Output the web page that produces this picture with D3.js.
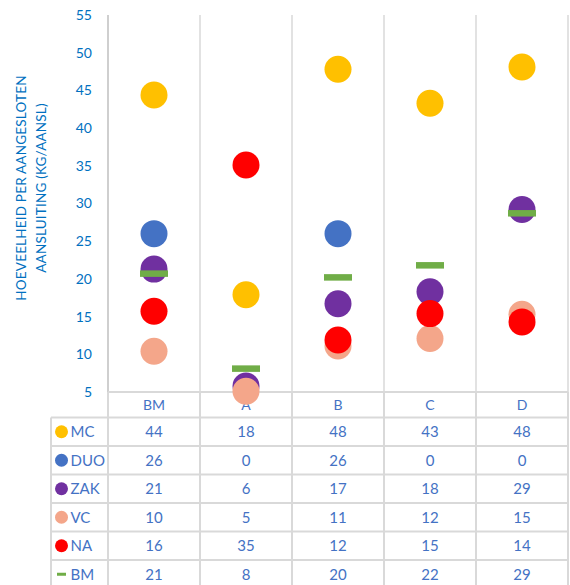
<!DOCTYPE html>
<html>
<head>
<meta charset="utf-8">
<script src="https://cdn.jsdelivr.net/npm/d3@7"></script>
<style>
  body { margin: 0; background: #fff; }
  svg { font-family: Lato, "Liberation Sans", sans-serif; }
</style>
</head>
<body>
<svg width="570" height="585"></svg>
<script>
// data
const categories = ["BM", "A", "B", "C", "D"];
const seriesNames = ["MC", "DUO", "ZAK", "VC", "NA", "BM"];
const mc  = [44.4, 17.9, 47.8, 43.3, 48.1];
const duo = [26.0, 0, 26.0, 0, 0];
const zak = [21.3, 5.8, 16.7, 18.3, 29.2];
const vc  = [10.4, 5.1, 11.1, 12.1, 15.3];
const na  = [15.7, 35.1, 11.9, 15.4, 14.3];
const bm  = [20.7, 8.1, 20.2, 21.8, 28.7];
const yTicks = [5, 10, 15, 20, 25, 30, 35, 40, 45, 50, 55];

const seriesValues = [mc, duo, zak, vc, na, bm];
const colors = ["#FFC000", "#4472C4", "#7030A0", "#F4A68A", "#FF0000", "#70AD47"];

const svg = d3.select("svg");

const x = d3.scaleBand()
  .domain(categories)
  .range([108, 568]);

const y = d3.scaleLinear()
  .domain([5, 55])
  .range([392, 15]);

const rows = d3.scaleBand()
  .domain(d3.range(seriesNames.length))
  .range([417.5, 588.5]);

// vertical gridlines
svg.append("g")
  .selectAll("line")
  .data(categories)
  .enter()
  .append("line")
  .attr("x1", d => x(d) + x.bandwidth())
  .attr("x2", d => x(d) + x.bandwidth())
  .attr("y1", y(55))
  .attr("y2", y(5))
  .attr("stroke", "#D9D9D9")
  .attr("stroke-width", 1.5);

// y axis
const yAxis = svg.append("g")
  .attr("transform", "translate(108,0)")
  .call(d3.axisLeft(y).tickValues(yTicks).tickSize(0).tickPadding(16));
yAxis.select(".domain").remove();
yAxis.selectAll("text")
  .attr("fill", "#0070C0")
  .attr("font-size", 14)
  .attr("font-family", "Lato, sans-serif");

svg.append("line")
  .attr("x1", 108).attr("x2", 108)
  .attr("y1", y(55)).attr("y2", y(5))
  .attr("stroke", "#BFBFBF")
  .attr("stroke-width", 1.5);

// y title
const title = svg.append("text")
  .attr("transform", "translate(0,188) rotate(-90)")
  .attr("text-anchor", "middle")
  .attr("fill", "#0070C0")
  .attr("font-size", 13.5)
  .attr("letter-spacing", 0.2);
title.append("tspan").attr("x", 0).attr("y", 26).text("HOEVEELHEID PER AANGESLOTEN");
title.append("tspan").attr("x", 0).attr("y", 46).text("AANSLUITING (KG/AANSL)");

// table grid
const grid = svg.append("g")
  .attr("stroke", "#D9D9D9")
  .attr("stroke-width", 2);

grid.append("line")
  .attr("x1", 108).attr("x2", 568)
  .attr("y1", y(5)).attr("y2", y(5));

grid.selectAll(".hrow")
  .data(d3.range(seriesNames.length + 1))
  .enter()
  .append("line")
  .attr("x1", 51).attr("x2", 568)
  .attr("y1", i => rows.step() * i + rows.range()[0])
  .attr("y2", i => rows.step() * i + rows.range()[0]);

grid.append("line")
  .attr("x1", 51).attr("x2", 51)
  .attr("y1", rows.range()[0]).attr("y2", 588);

grid.selectAll(".vcol")
  .data(categories)
  .enter()
  .append("line")
  .attr("x1", d => x(d))
  .attr("x2", d => x(d))
  .attr("y1", y(5))
  .attr("y2", 588);

grid.append("line")
  .attr("x1", 568).attr("x2", 568)
  .attr("y1", y(5)).attr("y2", 588);

// category labels
svg.append("g")
  .selectAll("text")
  .data(categories)
  .enter()
  .append("text")
  .attr("x", d => x(d) + x.bandwidth() / 2)
  .attr("y", 405)
  .attr("dy", ".35em")
  .attr("text-anchor", "middle")
  .attr("fill", "#4472C4")
  .attr("font-size", 14)
  .text(d => d);

// legend column + values
seriesNames.forEach((name, i) => {
  const cy = rows(i) + rows.bandwidth() / 2;
  if (i < 5) {
    svg.append("circle")
      .attr("cx", 61.5).attr("cy", cy).attr("r", 6.5)
      .attr("fill", colors[i]);
  } else {
    svg.append("rect")
      .attr("x", 57).attr("y", cy - 1.5)
      .attr("width", 9).attr("height", 3)
      .attr("fill", colors[i]);
  }
  svg.append("text")
    .attr("x", 70.5).attr("y", cy)
    .attr("dy", ".35em")
    .attr("fill", "#4472C4")
    .attr("font-size", 15)
    .text(name);

  svg.append("g")
    .selectAll("text")
    .data(seriesValues[i])
    .enter()
    .append("text")
    .attr("x", (d, j) => x(categories[j]) + x.bandwidth() / 2)
    .attr("y", cy)
    .attr("dy", ".35em")
    .attr("text-anchor", "middle")
    .attr("fill", "#4472C4")
    .attr("font-size", 15)
    .text(d => Math.round(d));
});

// markers
seriesValues.forEach((vals, i) => {
  const pts = vals.map((v, j) => ({ cat: categories[j], v: v }))
    .filter(d => d.v >= y.domain()[0]);
  const g = svg.append("g");
  if (i < 5) {
    g.selectAll("circle")
      .data(pts)
      .enter()
      .append("circle")
      .attr("cx", d => x(d.cat) + x.bandwidth() / 2)
      .attr("cy", d => y(d.v))
      .attr("r", 13.5)
      .attr("fill", colors[i]);
  } else {
    g.selectAll("rect")
      .data(pts)
      .enter()
      .append("rect")
      .attr("x", d => x(d.cat) + x.bandwidth() / 2 - 14)
      .attr("y", d => y(d.v) - 3.25)
      .attr("width", 28)
      .attr("height", 6.5)
      .attr("fill", colors[i]);
  }
});
</script>
</body>
</html>
